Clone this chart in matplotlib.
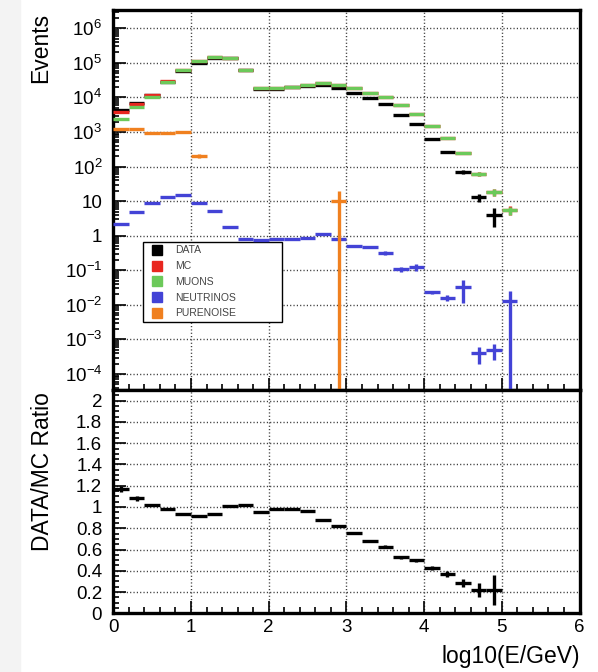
import matplotlib
matplotlib.use("Agg")
import matplotlib.pyplot as plt
import numpy as np
from matplotlib.lines import Line2D
from matplotlib.patches import Rectangle
from matplotlib.ticker import AutoMinorLocator, FixedLocator, LogLocator, MultipleLocator

plt.rcParams["font.family"] = ["Liberation Sans", "DejaVu Sans"]
plt.rcParams["mathtext.fontset"] = "custom"
plt.rcParams["mathtext.rm"] = "Liberation Sans"
plt.rcParams["mathtext.it"] = "Liberation Sans:italic"
plt.rcParams["mathtext.bf"] = "Liberation Sans:bold"

# log10(E/GeV) binning, 0.2 wide
bin_lo = [0.0, 0.2, 0.4, 0.6, 0.8, 1.0, 1.2, 1.4, 1.6, 1.8, 2.0, 2.2, 2.4,
          2.6, 2.8, 3.0, 3.2, 3.4, 3.6, 3.8, 4.0, 4.2, 4.4, 4.6, 4.8, 5.0]
bin_width = 0.2

muons = [2455, 5248, 10471, 28184, 61660, 109648, 151356, 134896, 61660,
         18197, 18197, 20417, 22909, 25704, 22387, 18197, 13804, 10000,
         6026, 3311, 1479, 692, 240, 60, 18, 5.5]
muons_err = [50, 72, 102, 168, 248, 331, 389, 367, 248, 135, 135, 143, 151,
             160, 150, 135, 117, 100, 78, 58, 38, 26, 15, 8, 4, 1.5]

neutrinos = [2.2, 4.8, 9.0, 13.5, 15.0, 9.0, 5.3, 1.75, 0.80, 0.75, 0.78,
             0.78, 0.88, 1.1, 0.79, 0.51, 0.48, 0.32, 0.107, 0.123, 0.023,
             0.016, 0.032, 4.0e-4, 4.9e-4, 0.013]
neutrinos_err = [0.1, 0.2, 0.3, 0.4, 0.4, 0.3, 0.2, 0.1, 0.05, 0.05, 0.05,
                 0.05, 0.05, 0.06, 0.05, 0.04, 0.04, 0.05, 0.02, 0.025,
                 0.003, 0.003, 0.021, 2.0e-4, 2.3e-4, 0.013]

purenoise = [1230, 1230, 930, 930, 1000, 205, 0, 0, 0, 0, 0, 0, 0, 0, 10,
             0, 0, 0, 0, 0, 0, 0, 0, 0, 0, 0]
purenoise_err = [35, 35, 30, 30, 32, 30, 0, 0, 0, 0, 0, 0, 0, 0, 10,
                 0, 0, 0, 0, 0, 0, 0, 0, 0, 0, 0]

data = [4303, 7002, 11593, 28487, 58538, 100853, 141371, 135707, 62833,
        17288, 17834, 20010, 22108, 22569, 18456, 13685, 9387, 6270, 3176,
        1656, 626, 256, 69, 13, 4, 0]
data_err = [66, 84, 108, 169, 242, 318, 376, 368, 251, 131, 134, 141, 149,
            150, 136, 117, 97, 79, 56, 41, 25, 16, 8.3, 3.6, 2.2, 0]

ratio_err = [0.03, 0.02, 0.01, 0.01, 0.008, 0.005, 0.005, 0.005, 0.008,
             0.01, 0.01, 0.01, 0.01, 0.01, 0.01, 0.01, 0.01, 0.012, 0.012,
             0.014, 0.02, 0.025, 0.04, 0.065, 0.14, 0]

labels = ["DATA", "MC", "MUONS", "NEUTRINOS", "PURENOISE"]
colors = ["black", "#e8261f", "#6cc95a", "#4343d6", "#f0801f"]

x = np.array(bin_lo) + bin_width / 2
mc = np.array(muons) + np.array(neutrinos) + np.array(purenoise)
mc_err = np.sqrt(np.array(muons_err) ** 2 + np.array(neutrinos_err) ** 2
                 + np.array(purenoise_err) ** 2)

fig = plt.figure(figsize=(5.98, 6.72), dpi=100)
fig.patches.append(Rectangle((0, 0), 20 / 598, 1, transform=fig.transFigure,
                             color="#f3f3f3", zorder=0))

ax1 = fig.add_axes([0.1895, 0.4196, 0.7796, 0.5655])
ax2 = fig.add_axes([0.1895, 0.0873, 0.7796, 0.3323])

lw = 2.4


def draw_hist(ax, values, errors, color, z):
    values = np.asarray(values, dtype=float)
    errors = np.asarray(errors, dtype=float)
    keep = values > 0
    ax.errorbar(x[keep], values[keep], xerr=bin_width / 2, yerr=errors[keep],
                fmt="none", ecolor=color, elinewidth=lw, capsize=0, zorder=z)


draw_hist(ax1, data, data_err, colors[0], 3)
draw_hist(ax1, mc, mc_err, colors[1], 4)
draw_hist(ax1, muons, muons_err, colors[2], 5)
draw_hist(ax1, neutrinos, neutrinos_err, colors[3], 6)
draw_hist(ax1, purenoise, purenoise_err, colors[4], 7)

ax1.set_yscale("log")
ax1.set_xlim(0, 6)
ax1.set_ylim(10 ** -4.463, 10 ** 6.529)

decades = [1e-4, 1e-3, 1e-2, 1e-1, 1, 10, 1e2, 1e3, 1e4, 1e5, 1e6]
decade_labels = [r"$10^{-4}$", r"$10^{-3}$", r"$10^{-2}$", r"$10^{-1}$", "1",
                 "10", r"$10^{2}$", r"$10^{3}$", r"$10^{4}$", r"$10^{5}$",
                 r"$10^{6}$"]
ax1.yaxis.set_major_locator(FixedLocator(decades))
ax1.set_yticklabels(decade_labels)
ax1.yaxis.set_minor_locator(LogLocator(base=10, subs=np.arange(2, 10), numticks=30))
ax1.tick_params(axis="x", labelbottom=False)

# ratio panel
data_arr = np.array(data, dtype=float)
has_data = data_arr > 0
ratio = data_arr[has_data] / mc[has_data]
ax2.errorbar(x[has_data], ratio, xerr=bin_width / 2,
             yerr=np.array(ratio_err)[has_data], fmt="none", ecolor="black",
             elinewidth=lw, capsize=0, zorder=3)
ax2.set_xlim(0, 6)
ax2.set_ylim(0, 2.1)
ax2.yaxis.set_major_locator(MultipleLocator(0.2))
ax2.yaxis.set_minor_locator(AutoMinorLocator(4))
ax2.set_yticks([0, 0.2, 0.4, 0.6, 0.8, 1, 1.2, 1.4, 1.6, 1.8, 2])
ax2.set_yticklabels(["0", "0.2", "0.4", "0.6", "0.8", "1", "1.2", "1.4",
                     "1.6", "1.8", "2"])

for ax in (ax1, ax2):
    ax.xaxis.set_major_locator(MultipleLocator(1))
    ax.xaxis.set_minor_locator(MultipleLocator(0.2))
    ax.tick_params(which="both", direction="in", width=1.2, labelsize=13.5,
                   top=False, right=False)
    ax.tick_params(which="major", length=9)
    ax.tick_params(which="minor", length=4.5)
    ax.tick_params(axis="y", pad=8)
    ax.tick_params(axis="x", pad=4)
    ax.grid(True, which="major", color="#333333", linestyle=(0, (0.8, 1.6)),
            linewidth=1.0)
    for sp in ax.spines.values():
        sp.set_linewidth(2.4)
    ax.set_axisbelow(True)

ax2.set_xticks([0, 1, 2, 3, 4, 5, 6])
ax2.set_xticklabels(["0", "1", "2", "3", "4", "5", "6"])

handles = [Line2D([], [], marker="s", linestyle="none", markersize=7.5,
                  color=c) for c in colors]
leg = ax1.legend(handles, labels, loc="upper left",
                 bbox_to_anchor=(0.063, 0.39, 0.299, 0.0), mode="expand",
                 fontsize=7.5, frameon=True, fancybox=False, framealpha=1,
                 edgecolor="black", borderpad=0.35, labelspacing=0.55,
                 handlelength=2.0, handletextpad=0.8, borderaxespad=0)
leg.get_frame().set_linewidth(1.0)
for t in leg.get_texts():
    t.set_color("#444444")

fig.text(41 / 598, 1 - 13 / 672, "Events", rotation=90, ha="center",
         va="top", fontsize=16.5)
fig.text(43 / 598, 1 - 392 / 672, "DATA/MC Ratio", rotation=90, ha="center",
         va="top", fontsize=16.5)
fig.text(580 / 598, 1 - 657 / 672, "log10(E/GeV)", ha="right", va="center",
         fontsize=16.5)

fig.savefig("out.png", dpi=100)
